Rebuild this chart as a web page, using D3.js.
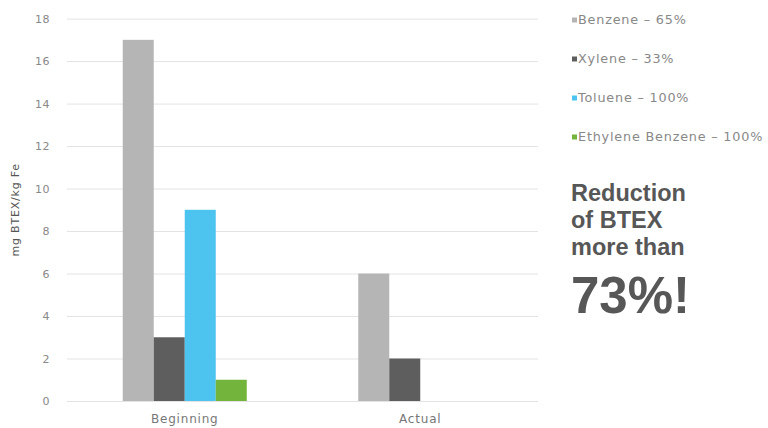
<!DOCTYPE html>
<html>
<head>
<meta charset="utf-8">
<script src="https://cdn.jsdelivr.net/npm/d3@7.9.0/dist/d3.min.js"></script>
<style>
  body { margin: 0; background: #fff; }
  svg { font-family: "DejaVu Sans", sans-serif; display: block; }
</style>
</head>
<body>
<svg id="chart" width="768" height="428"></svg>
<script>
// Data
const groups = ['Beginning', 'Actual'];
const series = ['Benzene', 'Xylene', 'Toluene', 'Ethylene Benzene'];
const legendLabels = ['Benzene – 65%', 'Xylene – 33%', 'Toluene – 100%', 'Ethylene Benzene – 100%'];
const beginningValues = [17, 3, 9, 1];
const actualValues = [6, 2, 0, 0];
const yTicks = [0, 2, 4, 6, 8, 10, 12, 14, 16, 18];
const colors = ['#b5b5b5', '#5e5e5e', '#4dc4f0', '#72b43c'];
const calloutLines = ['Reduction', 'of BTEX', 'more than'];
const calloutBig = '73%!';

const rows = groups.map((g, i) => ({
  group: g,
  values: series.map((s, j) => ({ key: s, value: (i === 0 ? beginningValues : actualValues)[j], idx: j }))
}));

const svg = d3.select('#chart');
const plot = { left: 67, right: 538, top: 18.6, bottom: 401 };

const x0 = d3.scaleBand().domain(groups).range([plot.left, plot.right]).paddingInner(0).paddingOuter(0);
const x1 = d3.scaleBand().domain(series).range([0, 124]);
const y = d3.scaleLinear().domain([0, 18]).range([plot.bottom, plot.top]);

// gridlines
svg.append('g')
  .attr('class', 'grid')
  .attr('transform', `translate(${plot.left},0)`)
  .call(d3.axisLeft(y).tickValues(yTicks).tickFormat('').tickSize(-(plot.right - plot.left)))
  .call(g => g.select('.domain').remove())
  .call(g => g.selectAll('line').attr('stroke', '#e3e3e3').attr('stroke-width', 1));

// y axis labels
svg.append('g')
  .attr('transform', `translate(${plot.left - 14},0)`)
  .call(d3.axisLeft(y).tickValues(yTicks).tickSize(0))
  .call(g => g.select('.domain').remove())
  .call(g => g.selectAll('text').attr('fill', '#888').attr('font-size', 11)
    .attr('font-family', '"DejaVu Sans", sans-serif').attr('letter-spacing', 0.5));

// x axis labels
svg.append('g')
  .attr('transform', `translate(0,${plot.bottom + 10})`)
  .call(d3.axisBottom(x0).tickSize(0))
  .call(g => g.select('.domain').remove())
  .call(g => g.selectAll('text').attr('fill', '#777').attr('font-size', 12)
    .attr('font-family', '"DejaVu Sans", sans-serif').attr('letter-spacing', 0.8));

// y axis title
svg.append('text')
  .attr('transform', `translate(19,${(plot.top + plot.bottom) / 2}) rotate(-90)`)
  .attr('text-anchor', 'middle')
  .attr('fill', '#555')
  .attr('font-size', 11)
  .attr('letter-spacing', 0.8)
  .text('mg BTEX/kg Fe');

// bars
svg.append('g')
  .selectAll('g')
  .data(rows)
  .join('g')
  .attr('transform', d => `translate(${x0(d.group) + x0.bandwidth() / 2 - 62},0)`)
  .selectAll('rect')
  .data(d => d.values.filter(v => v.value > 0))
  .join('rect')
  .attr('x', d => x1(d.key))
  .attr('width', x1.bandwidth())
  .attr('y', d => y(d.value))
  .attr('height', d => y(0) - y(d.value))
  .attr('fill', d => colors[d.idx]);

// legend
const legend = svg.append('g').attr('transform', 'translate(572,0)');
const ly = d3.scalePoint().domain(series).range([20, 137]);
const items = legend.selectAll('g')
  .data(series)
  .join('g')
  .attr('transform', d => `translate(0,${ly(d)})`);
items.append('rect')
  .attr('x', 0).attr('y', -2.5).attr('width', 5).attr('height', 5)
  .attr('fill', (d, i) => colors[i]);
items.append('text')
  .attr('x', 6).attr('dy', '0.35em')
  .attr('fill', '#888').attr('font-size', 12.8)
  .attr('letter-spacing', 0.8)
  .text((d, i) => legendLabels[i]);

// callout
const callout = svg.append('g').attr('transform', 'translate(571,0)')
  .attr('fill', '#575757').attr('font-weight', 'bold')
  .attr('font-family', '"Liberation Sans", Arial, sans-serif');
callout.selectAll('text.line')
  .data(calloutLines)
  .join('text')
  .attr('class', 'line')
  .attr('y', (d, i) => 201 + i * 27)
  .attr('font-size', 23.5)
  .text(d => d);
callout.append('text')
  .attr('y', 313)
  .attr('font-size', 51)
  .text(calloutBig);
</script>
</body>
</html>
